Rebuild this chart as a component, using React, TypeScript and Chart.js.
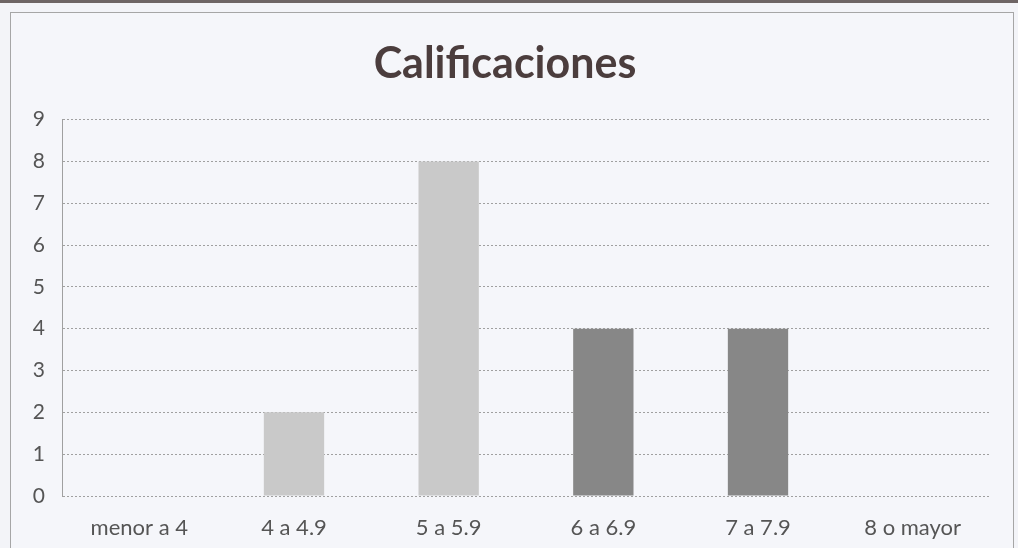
import React, { useEffect, useRef } from "react";
import { Chart, registerables } from "chart.js";

Chart.register(...registerables);

const categories = ["menor a 4", "4 a 4.9", "5 a 5.9", "6 a 6.9", "7 a 7.9", "8 o mayor"];
const counts = [0, 2, 8, 4, 4, 0];
const barColors = ["#c9c9c9", "#c9c9c9", "#c9c9c9", "#878787", "#878787", "#878787"];
const yTicks = [0, 1, 2, 3, 4, 5, 6, 7, 8, 9];
const title = "Calificaciones";

export default function App() {
  const ref = useRef<HTMLCanvasElement | null>(null);

  useEffect(() => {
    if (!ref.current) return;
    const chart = new Chart(ref.current, {
      type: "bar",
      data: {
        labels: categories,
        datasets: [
          {
            data: counts,
            backgroundColor: barColors,
            borderWidth: 0,
            categoryPercentage: 1,
            barPercentage: 0.39,
          },
        ],
      },
      options: {
        animation: false,
        responsive: false,
        maintainAspectRatio: false,
        layout: { padding: { left: 20, right: 28, top: 0, bottom: 8 } },
        plugins: {
          legend: { display: false },
          tooltip: { enabled: false },
          title: {
            display: true,
            text: title,
            color: "#4b3d3d",
            font: { family: "Lato, 'Open Sans', sans-serif", size: 43, weight: "bold" },
            padding: { top: 38, bottom: 30 },
          },
        },
        scales: {
          x: {
            grid: { display: false },
            border: { display: false },
            ticks: {
              color: "#555555",
              font: { family: "Lato, 'Open Sans', sans-serif", size: 22 },
              padding: 11,
            },
            afterFit: (s: any) => {
              s.height = 44;
            },
          },
          y: {
            min: 0,
            max: 9,
            afterBuildTicks: (s: any) => {
              s.ticks = yTicks.map((v) => ({ value: v }));
            },
            grid: {
              color: "#a0a0a0",
              lineWidth: 1,
              drawTicks: false,
            },
            border: { display: true, color: "#a0a0a0", dash: [2, 2], width: 1 },
            ticks: {
              color: "#555555",
              font: { family: "Lato, 'Open Sans', sans-serif", size: 21 },
              padding: 17,
              align: "center",
            },
            afterFit: (s: any) => {
              s.width = 42;
            },
          },
        },
      },
    } as any);
    (chart.options.scales as any).y.grid.tickBorderDash = [2, 2];
    (chart.options.scales as any).y.border.dash = [2, 2];
    chart.update();
    return () => chart.destroy();
  }, []);

  return (
    <div
      style={{
        position: "absolute",
        left: 0,
        top: 0,
        width: 1018,
        height: 548,
        background: "#f3f4f8",
        overflow: "hidden",
      }}
    >
      <div style={{ position: "absolute", left: 0, top: 0, width: 1018, height: 3, background: "#6e6565" }} />
      <div
        style={{
          position: "absolute",
          left: 10,
          top: 12,
          width: 1002,
          height: 560,
          border: "1px solid #a6a6a6",
          background: "#f5f6fa",
        }}
      />
      <canvas
        ref={ref}
        width={1018}
        height={548}
        style={{ position: "absolute", left: 0, top: 0, width: 1018, height: 548 }}
      />
    </div>
  );
}
